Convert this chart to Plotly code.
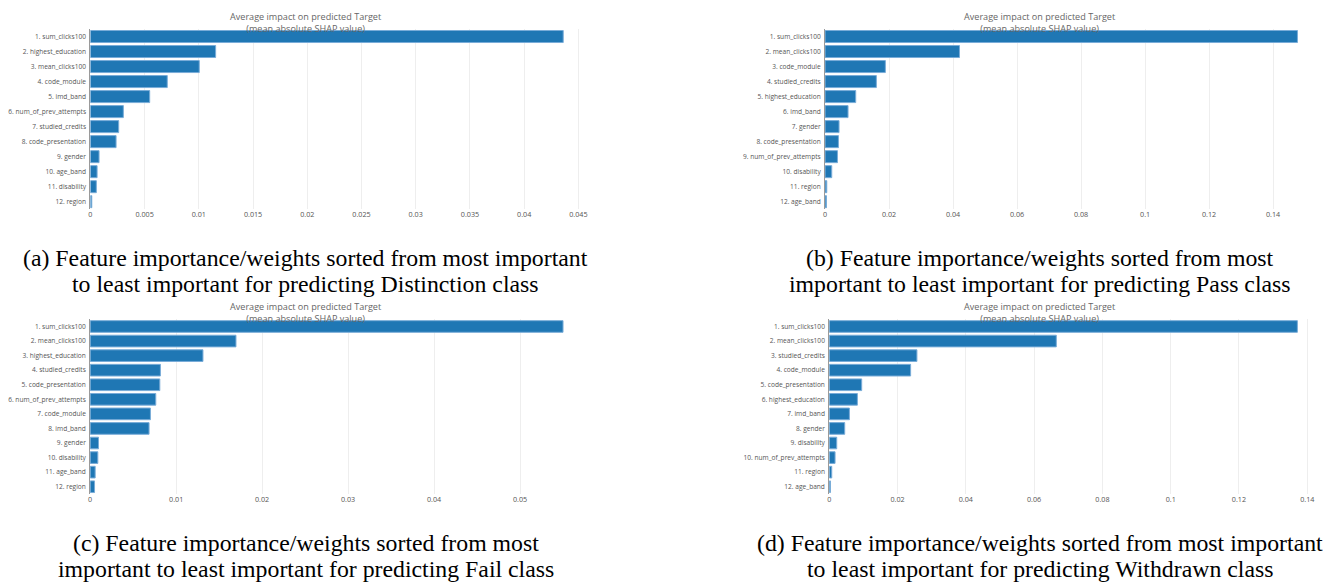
import plotly.graph_objects as go

# Mean absolute SHAP value per feature, one ranking per predicted class
feat_distinction = ["sum_clicks100", "highest_education", "mean_clicks100", "code_module",
                    "imd_band", "num_of_prev_attempts", "studied_credits", "code_presentation",
                    "gender", "age_band", "disability", "region"]
shap_distinction = [0.0436, 0.01155, 0.01004, 0.00709, 0.00547, 0.00304, 0.00261, 0.00237,
                    0.0008, 0.00062, 0.00055, 0.00013]

feat_pass = ["sum_clicks100", "mean_clicks100", "code_module", "studied_credits",
             "highest_education", "imd_band", "gender", "code_presentation",
             "num_of_prev_attempts", "disability", "region", "age_band"]
shap_pass = [0.1476, 0.0420, 0.01884, 0.01603, 0.00958, 0.00718, 0.00437, 0.00418,
             0.00387, 0.00209, 0.00053, 0.00044]

feat_fail = ["sum_clicks100", "mean_clicks100", "highest_education", "studied_credits",
             "code_presentation", "num_of_prev_attempts", "code_module", "imd_band",
             "gender", "disability", "age_band", "region"]
shap_fail = [0.0550, 0.01696, 0.01312, 0.00817, 0.0081, 0.00763, 0.00701, 0.00685,
             0.00097, 0.00089, 0.00058, 0.00051]

feat_withdrawn = ["sum_clicks100", "mean_clicks100", "studied_credits", "code_module",
                  "code_presentation", "highest_education", "imd_band", "gender",
                  "disability", "num_of_prev_attempts", "region", "age_band"]
shap_withdrawn = [0.1371, 0.0665, 0.02568, 0.02383, 0.0095, 0.00824, 0.0059, 0.00453,
                  0.00219, 0.0017, 0.00073, 0.00035]

x_dticks = [0.005, 0.02, 0.01, 0.02]

captions = [
    ["(a) Feature importance/weights sorted from most important",
     "to least important for predicting Distinction class"],
    ["(b) Feature importance/weights sorted from most",
     "important to least important for predicting Pass class"],
    ["(c) Feature importance/weights sorted from most",
     "important to least important for predicting Fail class"],
    ["(d) Feature importance/weights sorted from most important",
     "to least important for predicting Withdrawn class"],
]
plot_title = "Average impact on predicted Target<br>(mean absolute SHAP value)"

W, H = 1324, 583
BAR = "#1f77b4"
TXT = "#555555"

# pixel boxes of the four panels: (left, right, top, bottom)
boxes = [(88.5, 587.0, 29.0, 209.2),
         (824.3, 1322.3, 29.0, 209.2),
         (88.3, 586.8, 319.2, 494.0),
         (828.5, 1322.0, 319.2, 494.0)]
title_cx = [304, 1040, 304, 1040]
title_cy = [22.5, 22.5, 312, 312]
cap_cx = [304, 1040, 304, 1040]
cap_cy = [(258, 284), (258, 284), (543, 569), (543, 569)]

panels = [(feat_distinction, shap_distinction), (feat_pass, shap_pass),
          (feat_fail, shap_fail), (feat_withdrawn, shap_withdrawn)]

fig = go.Figure()
layout = dict(width=W, height=H, margin=dict(l=0, r=0, t=0, b=0),
              paper_bgcolor="white", plot_bgcolor="white", showlegend=False,
              font=dict(family="Open Sans, Arial, sans-serif", color=TXT),
              bargap=0.2)
annotations = []

for i, ((feats, vals), (l, r, t, b)) in enumerate(zip(panels, boxes)):
    n = i + 1
    sfx = "" if n == 1 else str(n)
    labels = [f"{k + 1}. {f}" for k, f in enumerate(feats)]
    fig.add_trace(go.Bar(
        x=vals, y=labels, orientation="h",
        marker=dict(color=BAR, line=dict(color="#79acd8", width=1)),
        xaxis="x" + sfx, yaxis="y" + sfx, hoverinfo="x+y",
    ))
    layout["xaxis" + sfx] = dict(
        domain=[l / W, r / W], anchor="y" + sfx,
        showgrid=True, gridcolor="#eeeeee", gridwidth=1,
        zeroline=False, showline=False, ticks="",
        dtick=x_dticks[i], tick0=0,
        tickfont=dict(size=7.2, color=TXT),
    )
    layout["yaxis" + sfx] = dict(
        domain=[1 - b / H, 1 - t / H], anchor="x" + sfx,
        autorange="reversed", showgrid=False, zeroline=False,
        showline=True, linecolor="#9a9a9a", linewidth=1, ticks="",
        ticklabelstandoff=2,
        tickfont=dict(size=6.6, color=TXT),
    )
    annotations.append(dict(
        text=plot_title, x=title_cx[i] / W, y=1 - title_cy[i] / H,
        xref="paper", yref="paper", xanchor="center", yanchor="middle",
        showarrow=False, align="center",
        font=dict(size=9.1, color="#666666", family="Open Sans, Arial, sans-serif"),
    ))
    for line, cy in zip(captions[i], cap_cy[i]):
        annotations.append(dict(
            text=line, x=cap_cx[i] / W, y=1 - cy / H,
            xref="paper", yref="paper", xanchor="center", yanchor="middle",
            showarrow=False,
            font=dict(size=23.8, color="black", family="Liberation Serif, Times New Roman, serif"),
        ))

layout["annotations"] = annotations
fig.update_layout(**layout)
fig.write_html("out.html")
